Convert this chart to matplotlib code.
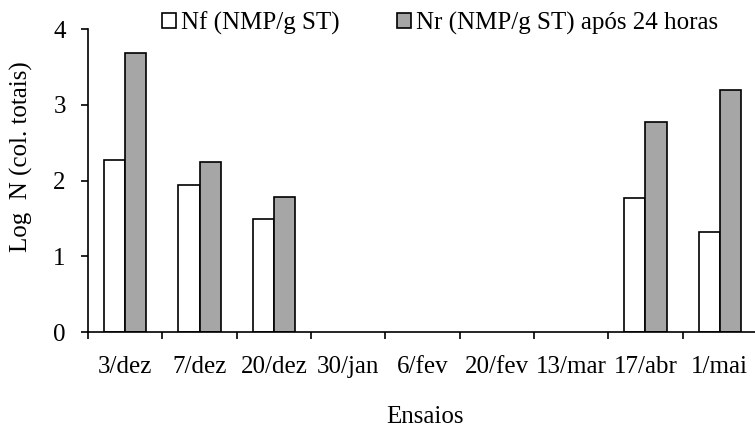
import matplotlib.pyplot as plt
import numpy as np

plt.rcParams['font.family'] = ['Liberation Serif', 'DejaVu Serif']

ensaios = ["3/dez", "7/dez", "20/dez", "30/jan", "6/fev", "20/fev", "13/mar", "17/abr", "1/mai"]
nf = [2.27, 1.94, 1.49, 0, 0, 0, 0, 1.77, 1.32]
nr = [3.68, 2.24, 1.78, 0, 0, 0, 0, 2.77, 3.20]

fig = plt.figure(figsize=(7.55, 4.29), dpi=100)
ax = fig.add_axes([0.1166, 0.2261, 0.886, 0.7063])

x = np.arange(len(ensaios))
w = 0.285
# zero-height bars are not outlined in the original
ec_nf = ["black" if v > 0 else "none" for v in nf]
ec_nr = ["black" if v > 0 else "none" for v in nr]
ax.bar(x - w / 2, nf, w, color="white", edgecolor=ec_nf, linewidth=1.2,
       label="Nf (NMP/g ST)")
ax.bar(x + w / 2, nr, w, color="#a6a6a6", edgecolor=ec_nr, linewidth=1.2,
       label="Nr (NMP/g ST) após 24 horas")

ax.set_xlim(-0.5, len(ensaios) - 0.5)
ax.set_ylim(0, 4)
ax.set_yticks([0, 1, 2, 3, 4])
ax.set_xticks(x - 0.5)
ax.set_xticklabels([])
ax.set_xticks(x, minor=True)
ax.set_xticklabels(ensaios, minor=True)
ax.tick_params(axis="x", which="minor", length=0, pad=17, labelsize=18)
ax.tick_params(axis="x", which="major", length=5, width=1.2, direction="out")
ax.tick_params(axis="y", length=5, width=1.2, labelsize=18, pad=11)

for s in ["top", "right"]:
    ax.spines[s].set_visible(False)
for s in ["left", "bottom"]:
    ax.spines[s].set_linewidth(1.2)

ax.set_ylabel("Log  N (col. totais)", fontsize=18)
ax.yaxis.set_label_coords(-0.083, 0.578)
fig.text(0.563, 0.028, "Ensaios", fontsize=18, ha="center", va="center")

leg = ax.legend(ncol=2, frameon=False, loc="center", bbox_to_anchor=(0.583, 0.946),
                bbox_transform=fig.transFigure, fontsize=18, handlelength=0.55,
                handleheight=0.55, handletextpad=0.2, columnspacing=2.3,
                borderpad=0)
for h in leg.legend_handles:
    h.set_edgecolor("black")

fig.savefig("out.png", dpi=100)
